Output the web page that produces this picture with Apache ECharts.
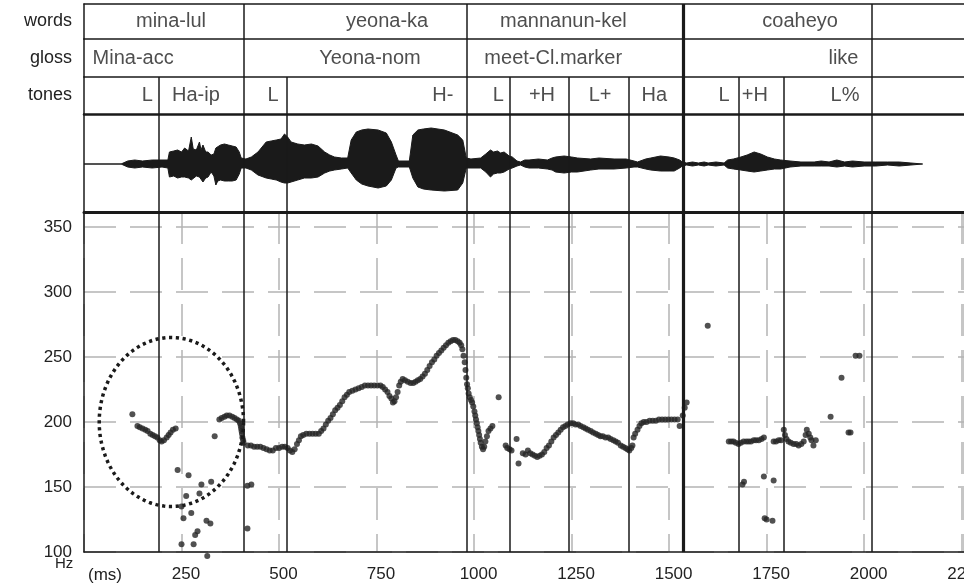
<!DOCTYPE html>
<html><head><meta charset="utf-8">
<script src="https://cdn.jsdelivr.net/npm/echarts@6/dist/echarts.min.js"></script>
<style>html,body{margin:0;padding:0;background:#fff}#c{width:964px;height:588px}</style>
</head><body><div id="c"></div>
<script>
// ---------------- data ----------------
const X_MAX = 2256;                       // ms shown on the time axis
const Y_MIN = 100, Y_MAX = 361.5;         // Hz range of the pitch panel
const tierNames = ['words', 'gloss', 'tones'];
const wordBounds = [409, 981, 1535, 2019];
const toneBounds = [191, 409, 519, 981, 1091, 1242, 1396, 1535, 1678, 1794, 2019];
const thickBound = 1535;
const wordLabels = ['mina-lul', 'yeona-ka', 'mannanun-kel', 'coaheyo'];
const wordPos = [223, 777, 1229, 1836];
const glossLabels = ['Mina-acc', 'Yeona-nom', 'meet-Cl.marker', 'like'];
const glossPos = [126, 733, 1203, 1947];
const toneLabels = ['L', 'Ha-ip', 'L', 'H-', 'L', '+H', 'L+', 'Ha', 'L', '+H', 'L%'];
const tonePos = [162, 287, 485, 920, 1062, 1174, 1323, 1462, 1641, 1720, 1951];
const xTickLabels = [250, 500, 750, 1000, 1250, 1500, 1750, 2000, 2250];
const yTickLabels = [100, 150, 200, 250, 300, 350];

// waveform envelope (time ms, upper amplitude, lower amplitude)
const waveT = [0,95,100,112,130,150,175,200,215,219,230,240,250,258,268,275,280,288,296,300,305,312,318,326,333,338,343,350,360,370,380,390,398,403,415,429,446,467,480,493,505,514,522,531,548,565,583,600,617,630,642,660,676,685,698,712,728,754,775,788,800,806,834,843,856,870,890,924,958,971,980,992,1017,1030,1042,1050,1060,1068,1077,1090,1098,1110,1119,1130,1141,1165,1188,1200,1209,1231,1250,1265,1299,1320,1359,1390,1410,1419,1440,1453,1478,1500,1513,1527,1534,1545,1560,1575,1590,1600,1620,1641,1650,1665,1684,1700,1718,1735,1752,1770,1786,1810,1838,1872,1890,1910,1930,1950,1970,2000,2030,2060,2090,2120,2150];
const waveUp = [0,0,1,3,4,3,4,4,4,12,13,14,12,16,13,27,15,14,22,14,19,12,12,9,10,16,18,19,20,19,18,17,12,6,5,7,12,22,23,24,25,30,27,22,20,19,20,18,12,9,7,6,6,24,32,34,35,34,31,22,9,3,3,29,34,35,36,34,29,24,6,5,6,10,14,12,13,11,12,8,7,3,2,4,4,5,4,6,7,8,7,6,5,6,5,5,3,2,5,6,8,7,6,4,2,1,2,1,2,1,2,1,4,5,7,9,12,10,7,5,4,3,2,2,3,2,4,2,3,2,2,2,2,1,0];
const waveDown = [0,0,1,3,4,3,4,3,4,13,12,14,13,13,14,16,18,12,13,15,18,14,13,8,12,21,17,16,17,17,17,16,10,4,4,6,11,14,15,16,18,19,19,18,16,14,14,13,9,7,6,5,4,9,16,20,22,24,22,16,4,3,3,14,23,25,26,27,26,19,4,4,4,8,13,10,9,9,8,5,4,2,1,3,4,4,5,6,8,9,8,8,6,5,5,4,3,3,5,6,7,7,7,4,2,1,2,1,2,1,2,1,4,5,6,7,8,7,6,5,5,3,2,2,2,2,3,2,3,2,2,1,2,1,0];

// F0 track, [time ms, Hz]
const pitchMinaLul = [[124,206],[137,197],[143,196],[150,195],[157,194],[163,193],[170,191],[176,190],[182,189],[188,188],[194,186],[199,185],[205,186],[212,188],[217,190],[222,192],[228,194],[235,195],[335,189],[347,202],[353,203],[360,204],[366,205],[373,205],[380,204],[386,203],[392,202],[397,201],[400,199],[402,197],[403,195],[404,193],[405,191],[406,188],[408,186],[409,184]];
const pitchScatterLow = [[240,163],[268,159],[301,152],[326,154],[262,143],[296,145],[250,135],[275,130],[255,126],[314,124],[324,122],[291,116],[285,113],[250,106],[281,106],[316,97],[419,151],[429,152],[419,118]];
const pitchYeonaKa = [[420,182],[428,182],[436,181],[444,181],[452,181],[460,180],[468,179],[476,178],[484,178],[492,180],[500,180],[508,181],[515,181],[522,180],[528,178],[534,177],[540,179],[546,183],[551,186],[556,189],[562,190],[570,191],[578,191],[586,191],[594,191],[602,191],[608,193],[614,195],[620,198],[626,201],[632,203],[638,206],[644,209],[650,211],[656,213],[662,216],[668,219],[674,221],[680,223],[688,224],[696,225],[704,226],[712,227],[720,228],[728,228],[736,228],[744,228],[752,228],[760,228],[766,227],[772,225],[778,223],[783,220],[788,218],[792,215],[796,216],[800,219],[804,223],[808,228],[812,231],[817,233],[823,232],[830,231],[837,230],[844,230],[850,231],[856,232],[862,233],[868,235],[874,237],[880,240],[886,243],[892,246],[898,248],[904,251],[910,253],[916,255],[922,257],[928,259],[934,261],[940,262],[946,263],[952,263],[958,262],[963,261],[967,259],[970,256],[973,251],[976,246],[978,240]];
const pitchMannanun = [[980,234],[982,229],[984,226],[986,222],[989,219],[992,217],[995,215],[998,212],[1001,208],[1003,205],[1005,202],[1007,199],[1009,196],[1011,193],[1013,190],[1015,187],[1017,184],[1020,181],[1023,179],[1026,181],[1029,185],[1033,189],[1037,193],[1042,195],[1047,197],[1063,219],[1081,182],[1085,180],[1091,179],[1096,178],[1109,187],[1114,168],[1125,176],[1132,175],[1138,178],[1144,176],[1150,175],[1156,174],[1162,173],[1168,174],[1174,175],[1180,177],[1186,180],[1192,182],[1198,185],[1204,188],[1210,190],[1216,192],[1222,194],[1228,196],[1234,197],[1240,198],[1247,199],[1254,199],[1260,198],[1267,198],[1273,197],[1280,196],[1286,195],[1292,194],[1299,193],[1305,192],[1312,191],[1318,190],[1324,189],[1330,189],[1337,188],[1344,188],[1350,187],[1357,186],[1363,185],[1369,184],[1376,182],[1382,181],[1388,180],[1393,179],[1398,178],[1403,180],[1406,182],[1409,188],[1413,191],[1419,194],[1424,197],[1429,199],[1435,200],[1442,200],[1450,201],[1458,201],[1466,201],[1474,202],[1482,202],[1490,202],[1498,202],[1506,202],[1514,202],[1522,202],[1527,197],[1535,205],[1540,211],[1545,215]];
const pitchCoaheyo = [[1599,274],[1653,185],[1659,185],[1665,185],[1671,184],[1678,183],[1684,184],[1691,185],[1698,185],[1704,185],[1710,185],[1717,186],[1723,186],[1730,186],[1737,187],[1743,188],[1688,152],[1692,154],[1743,158],[1768,155],[1745,126],[1750,125],[1765,124],[1768,185],[1774,185],[1781,186],[1787,186],[1794,194],[1797,190],[1801,187],[1806,185],[1812,184],[1819,183],[1826,183],[1832,182],[1839,183],[1845,185],[1850,190],[1853,194],[1858,191],[1862,188],[1865,186],[1870,182],[1876,186],[1914,204],[1942,234],[1960,192],[1965,192],[1978,251],[1988,251]];
// dotted ellipse annotation: [centre ms, centre Hz, radius ms, radius Hz]
const circleAnnotation = [224, 200, 185, 65];

// ---------------- chart ----------------
const FONT = '"Liberation Sans", Arial, sans-serif';
const INK = '#1a1a1a';
const chart = echarts.init(document.getElementById('c'), null, {renderer: 'canvas'});

function boundLines(bounds) {
  return {
    silent: true, symbol: ['none', 'none'], label: {show: false}, animation: false,
    emphasis: {disabled: true},
    data: bounds.map(t => ({xAxis: t, lineStyle: {color: INK, type: 'solid', width: t === thickBound ? 3.2 : 1.5}}))
  };
}
function xa(grid, extra) {
  return Object.assign({
    type: 'value', gridIndex: grid, min: 0, max: X_MAX, position: 'bottom',
    axisLabel: {show: false}, axisTick: {show: false}, splitLine: {show: false},
    axisLine: {show: true, onZero: false, lineStyle: {color: INK, width: 1.5}}
  }, extra || {});
}
function tierY(grid, name) {
  return {
    type: 'category', gridIndex: grid, data: [name],
    axisTick: {show: false}, splitLine: {show: false},
    axisLine: {show: true, lineStyle: {color: INK, width: 1.5}},
    axisLabel: {show: true, margin: 12, fontFamily: FONT, fontSize: 18, color: '#222', padding: [0, 0, 14, 0]}
  };
}
function tierSeries(xi, yi, labels, pos, bounds) {
  return {
    type: 'scatter', xAxisIndex: xi, yAxisIndex: yi, symbolSize: 1,
    itemStyle: {color: 'rgba(0,0,0,0)'}, silent: true,
    data: pos.map(t => [t, 0]),
    label: {show: true, position: 'inside', formatter: p => labels[p.dataIndex],
      fontFamily: FONT, fontSize: 20, color: '#222'},
    markLine: boundLines(bounds)
  };
}
const zip = (a, b) => a.map((t, i) => [t, b[i]]);
const dashed = {color: '#b4b4b4', width: 1.5, type: [32, 14]};
const gridBase = {left: 84, right: 0, outerBoundsMode: 'none', containLabel: false};

chart.setOption({
  animation: false,
  backgroundColor: '#fff',
  grid: [
    Object.assign({top: 4, height: 35}, gridBase),
    Object.assign({top: 39, height: 38}, gridBase),
    Object.assign({top: 77, height: 37}, gridBase),
    Object.assign({top: 114, height: 98}, gridBase),
    Object.assign({top: 212, height: 340}, gridBase)
  ],
  xAxis: [
    xa(0),
    xa(0, {position: 'top'}),
    xa(1),
    xa(2, {axisLine: {show: true, onZero: false, lineStyle: {color: INK, width: 2.5}}}),
    xa(3, {axisLine: {show: true, onZero: false, lineStyle: {color: INK, width: 3}}}),
    xa(4, {
      interval: 250,
      splitLine: {show: true, lineStyle: dashed},
      axisLabel: {show: true, margin: 14, fontFamily: FONT, fontSize: 17, color: '#222',
        padding: [0, 0, 0, 9],
        showMinLabel: false, showMaxLabel: false, hideOverlap: false,
        formatter: v => xTickLabels.includes(v) ? String(v) : ''}
    })
  ],
  yAxis: [
    tierY(0, tierNames[0]),
    tierY(1, tierNames[1]),
    tierY(2, tierNames[2]),
    {type: 'value', gridIndex: 3, min: -48, max: 50, axisLabel: {show: false}, axisTick: {show: false},
      splitLine: {show: false}, axisLine: {show: true, onZero: false, lineStyle: {color: INK, width: 1.5}}},
    {type: 'value', gridIndex: 4, min: Y_MIN, max: Y_MAX, interval: 50,
      axisTick: {show: false},
      axisLine: {show: true, onZero: false, lineStyle: {color: INK, width: 1.5}},
      splitLine: {show: true, lineStyle: dashed},
      axisLabel: {margin: 12, fontFamily: FONT, fontSize: 17, color: '#222',
        showMaxLabel: false,
        formatter: v => yTickLabels.includes(v) ? String(v) : ''}}
  ],
  graphic: [
    {type: 'text', left: 55, top: 556, style: {text: 'Hz', font: '15px ' + FONT, fill: '#222'}},
    {type: 'text', left: 88, top: 567, style: {text: '(ms)', font: '17px ' + FONT, fill: '#222'}}
  ],
  series: [
    tierSeries(0, 0, wordLabels, wordPos, wordBounds),
    tierSeries(2, 1, glossLabels, glossPos, wordBounds),
    tierSeries(3, 2, toneLabels, tonePos, toneBounds),
    {type: 'line', xAxisIndex: 4, yAxisIndex: 3, symbol: 'none', silent: true,
      data: zip(waveT, waveUp),
      lineStyle: {color: INK, width: 1}, areaStyle: {color: INK, opacity: 1, origin: 'auto'},
      markLine: boundLines(toneBounds)},
    {type: 'line', xAxisIndex: 4, yAxisIndex: 3, symbol: 'none', silent: true,
      data: zip(waveT, waveDown.map(v => -v)),
      lineStyle: {color: INK, width: 1}, areaStyle: {color: INK, opacity: 1, origin: 'auto'}},
    {type: 'scatter', xAxisIndex: 5, yAxisIndex: 4, clip: false, silent: true,
      symbol: 'circle', symbolSize: 6, itemStyle: {color: '#262626'},
      data: [].concat(pitchMinaLul, pitchScatterLow, pitchYeonaKa, pitchMannanun, pitchCoaheyo),
      markLine: boundLines(toneBounds), z: 3},
    {type: 'custom', xAxisIndex: 5, yAxisIndex: 4, silent: true, clip: false, z: 4,
      data: [circleAnnotation],
      renderItem: (params, api) => {
        const c = api.coord([api.value(0), api.value(1)]);
        const s = api.size([api.value(2), api.value(3)]);
        const pts = [];
        for (let i = 0; i <= 180; i++) {
          const a = i / 180 * Math.PI * 2;
          pts.push([c[0] + s[0] * Math.cos(a), c[1] - s[1] * Math.sin(a)]);
        }
        return {type: 'polyline', shape: {points: pts},
          style: {stroke: INK, lineWidth: 3.5, lineDash: [3.2, 3.6], fill: null}};
      }}
  ]
});
</script>
</body></html>
